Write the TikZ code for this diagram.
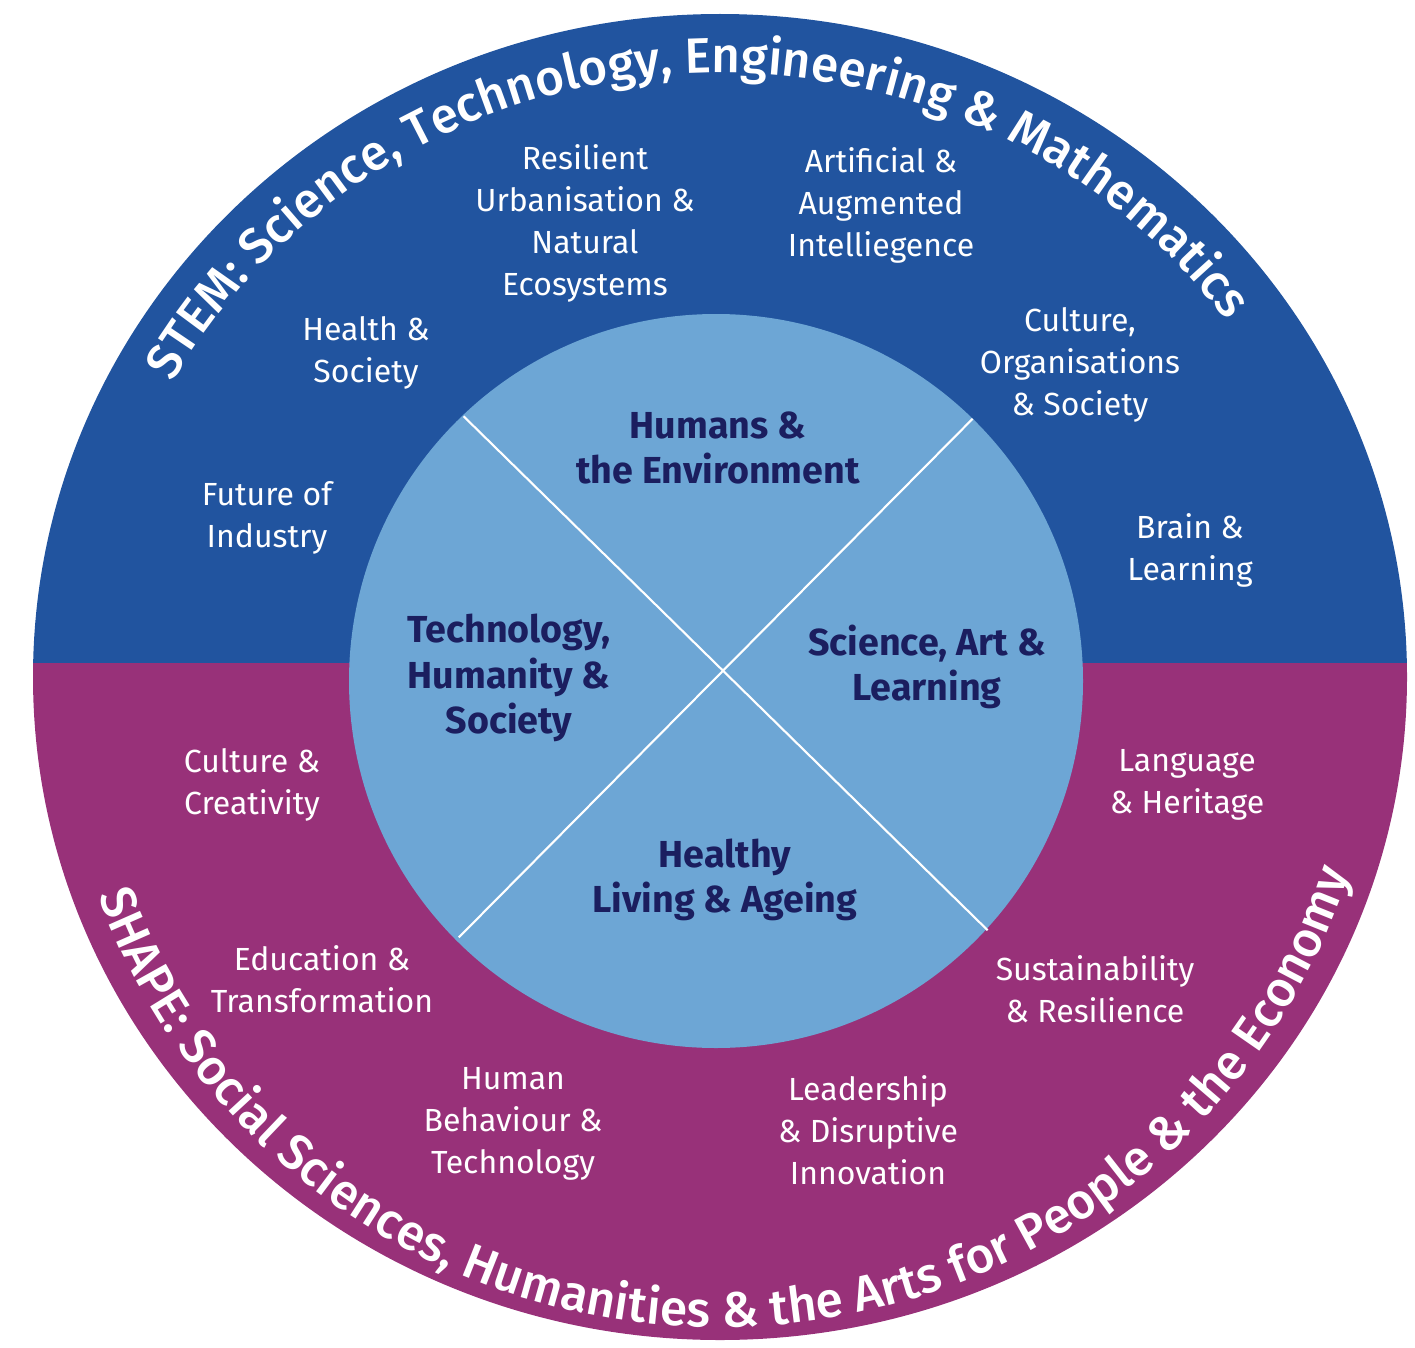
\documentclass[tikz,border=0pt]{standalone}
\usepackage{fontspec}
\setmainfont{Fira Sans}
\newfontfamily\arcfamily{Fira Sans Medium}
\usetikzlibrary{decorations.text}
\definecolor{stemblue}{RGB}{33,84,159}
\definecolor{shapepurple}{RGB}{152,49,121}
\definecolor{corelight}{RGB}{109,166,213}
\definecolor{corenavy}{RGB}{27,30,95}
\newcommand{\arcfont}{\arcfamily\fontsize{14.1}{14}\selectfont}
\tikzset{
    theme/.style={align=center, text=white, inner sep=0pt,
    	font=\fontsize{9.1}{11.95}\selectfont},
    core/.style={align=center, text=corenavy, inner sep=0pt,
    	font=\bfseries\fontsize{10.7}{12.9}\selectfont},
    arctext/.style={decorate, decoration={text along path, text align=center,
    	text color=white, text={|\arcfont|#1}}}
}

\begin{document}
\begin{tikzpicture}[x=0.01cm, y=0.01cm]
	\useasboundingbox (0,0) rectangle (1415,1347);
	\begin{scope}
		\clip (720,670) ellipse [x radius=687, y radius=663];
		\fill[shapepurple] (0,0) rectangle (1415,684);
		\fill[stemblue] (0,684) rectangle (1415,1347);
	\end{scope}
	\fill[corelight] (716,666) circle [radius=367];
	
	\coordinate (nw) at (463.6,930.7); \coordinate (se) at (987.6,416.8);
	\coordinate (ne) at (972.6,928.2); \coordinate (sw) at (458.8,409.6);
	\draw[white, line width=0.6pt] (nw) -- (se); \draw[white, line width=0.6pt] (ne) -- (sw);
	
	\path[arctext={STEM: Science, Technology, Engineering {\&} Mathematics}]
		(720,670) ++(175:627 and 604) arc [start angle=175, end angle=12, x radius=627, y radius=604];
	\path[arctext={SHAPE: Social Sciences, Humanities {\&} the Arts for People {\&} the Economy}]
		(720,670) ++(190:660 and 650) arc [start angle=190, end angle=352, x radius=660, y radius=650];
	
	\node (env) [core] at (718,899) {Humans \&\\the Environment};
	\node (tech) [core] at (509,669) {Technology,\\Humanity \&\\Society};
	\node (sci) [core] at (927,680) {Science, Art \&\\Learning};
	\node (age) [core] at (725,467) {Healthy\\Living \& Ageing};
	
	\node (urban) [theme] at (585,1124) {Resilient\\Urbanisation \&\\Natural\\Ecosystems};
	\node (ai) [theme] at (881,1142) {Artificial \&\\Augmented\\Intelliegence};
	\node (health) [theme] at (366,994) {Health \&\\Society};
	\node (orgs) [theme] at (1080,982) {Culture,\\Organisations\\\& Society};
	\node (industry) [theme] at (267,829) {Future of\\Industry};
	\node (brain) [theme] at (1190,797) {Brain \&\\Learning};
	\node (creative) [theme] at (252,562) {Culture \&\\Creativity};
	\node (heritage) [theme] at (1187,562) {Language\\\& Heritage};
	\node (edu) [theme] at (322,368) {Education \&\\Transformation};
	\node (sustain) [theme] at (1095,358) {Sustainability\\\& Resilience};
	\node (behaviour) [theme] at (513,223) {Human\\Behaviour \&\\Technology};
	\node (lead) [theme] at (868,217) {Leadership\\\& Disruptive\\Innovation};
\end{tikzpicture}
\end{document}
